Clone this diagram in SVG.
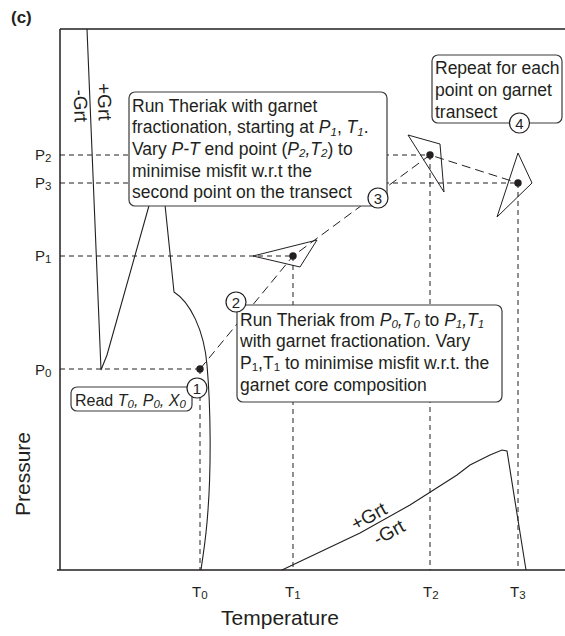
<svg xmlns="http://www.w3.org/2000/svg" width="565" height="636" viewBox="0 0 565 636">
<style>
text { font-family: "Liberation Sans", Arial, sans-serif; fill: #231f20; }
.bt { font-size: 17.5px; }
.s { font-size: 11.5px; }
.ax { font-size: 15px; }
.box { fill: #fff; stroke: #3a3a3a; stroke-width: 1.2; }
.circ { fill: #fff; stroke: #231f20; stroke-width: 1.2; }
.num { font-size: 15px; text-anchor: middle; }
.guide { stroke: #231f20; stroke-width: 1; stroke-dasharray: 5 4; fill: none; }
.trk { stroke: #231f20; stroke-width: 1; stroke-dasharray: 9 5; fill: none; }
.ln { stroke: #231f20; stroke-width: 1.1; fill: none; }
.axis { stroke: #231f20; stroke-width: 1.5; fill: none; }
.err { stroke: #231f20; stroke-width: 1; fill: none; stroke-linejoin: miter; }
.dot { fill: #231f20; }
.it { font-style: italic; }
</style>

<text x="11" y="23" font-size="17" font-weight="bold">(c)</text>

<g id="axes">
<line class="axis" x1="60" y1="29" x2="565" y2="29"/>
<line class="axis" x1="60" y1="29" x2="60" y2="570"/>
<line class="axis" x1="57" y1="570" x2="565" y2="570"/>
<text x="30" y="474" font-size="21" text-anchor="middle" transform="rotate(-90 30 474)">Pressure</text>
<text x="280" y="625" font-size="21" text-anchor="middle">Temperature</text>
<text class="ax" x="35" y="160">P<tspan class="s" dy="2">2</tspan></text>
<text class="ax" x="35" y="188">P<tspan class="s" dy="2">3</tspan></text>
<text class="ax" x="35" y="261">P<tspan class="s" dy="2">1</tspan></text>
<text class="ax" x="35" y="375">P<tspan class="s" dy="2">0</tspan></text>
<text class="ax" x="192" y="597">T<tspan class="s" dy="2">0</tspan></text>
<text class="ax" x="285" y="597">T<tspan class="s" dy="2">1</tspan></text>
<text class="ax" x="423" y="597">T<tspan class="s" dy="2">2</tspan></text>
<text class="ax" x="510" y="597">T<tspan class="s" dy="2">3</tspan></text>
</g>

<g id="phase-boundaries">
<path class="ln" d="M87,29 L101,370 L107,355 L152,195"/>
<path class="ln" d="M164,195 L174,292 C190,302 204,330 207,365 C211,410 211,470 208,510 C206,540 203,555 201,570"/>
<path class="ln" d="M282,570 L360,533 L410,505 L457,475 L470,465 L490,455 L502,450 L507,451 L518,520 L526,570"/>
<text font-size="19" text-anchor="middle" transform="translate(98 102) rotate(88)">+Grt</text>
<text font-size="19" text-anchor="middle" transform="translate(74 106) rotate(88)">-Grt</text>
<text font-size="19" text-anchor="middle" transform="translate(372 522) rotate(-29)">+Grt</text>
<text font-size="19" text-anchor="middle" transform="translate(392 538) rotate(-29)">-Grt</text>
</g>

<g id="connectors">
<path class="guide" d="M60,155 H430 M60,183 H518 M60,256 H293 M60,369 H200"/>
<path class="guide" d="M200,369 V570 M293,256 V570 M430,155 V570 M518,183 V570"/>
<path class="trk" d="M200,369 L293,256 L430,155 L518,183"/>
</g>

<g id="error-triangles">
<polygon class="err" points="253,256 317,240 300,267"/>
<polygon class="err" points="408,135 440,144 444,192"/>
<polygon class="err" points="518,153 532,183 497,217"/>
<circle class="dot" cx="200" cy="369" r="3.7"/>
<circle class="dot" cx="293" cy="256" r="3.7"/>
<circle class="dot" cx="430" cy="155" r="3.7"/>
<circle class="dot" cx="518" cy="183" r="3.7"/>
</g>

<g id="step1">
<rect class="box" x="71" y="387" width="121" height="24" rx="6"/>
<text x="75" y="405.5" font-size="16">Read <tspan class="it">T<tspan class="s" dy="2.5">0</tspan><tspan dy="-2.5">, P</tspan><tspan class="s" dy="2.5">0</tspan><tspan dy="-2.5">, X</tspan><tspan class="s" dy="2.5">0</tspan></tspan></text>
<circle class="circ" cx="197" cy="388" r="10"/>
<text class="num" x="197" y="393.5">1</text>
</g>

<g id="step2">
<rect class="box" x="237" y="305" width="265" height="97" rx="6"/>
<text class="bt" x="240" y="325.5">Run Theriak from <tspan class="it">P<tspan class="s" dy="2.5">0</tspan><tspan dy="-2.5">,T</tspan><tspan class="s" dy="2.5">0</tspan></tspan><tspan dy="-2.5"> to </tspan><tspan class="it">P<tspan class="s" dy="2.5">1</tspan><tspan dy="-2.5">,T</tspan><tspan class="s" dy="2.5">1</tspan></tspan></text>
<text class="bt" x="240" y="347.2">with garnet fractionation. Vary</text>
<text class="bt" x="240" y="368.9">P<tspan class="s" dy="2.5">1</tspan><tspan dy="-2.5">,T</tspan><tspan class="s" dy="2.5">1</tspan><tspan dy="-2.5"> to minimise misfit w.r.t. the</tspan></text>
<text class="bt" x="240" y="390.6">garnet core composition</text>
<circle class="circ" cx="236" cy="302" r="10"/>
<text class="num" x="236" y="307.5">2</text>
</g>

<g id="step3">
<rect class="box" x="129" y="92" width="258" height="114" rx="6"/>
<text class="bt" x="132" y="111.5">Run Theriak with garnet</text>
<text class="bt" x="132" y="133.2">fractionation, starting at <tspan class="it">P<tspan class="s" dy="2.5">1</tspan></tspan><tspan dy="-2.5">, </tspan><tspan class="it">T<tspan class="s" dy="2.5">1</tspan></tspan><tspan dy="-2.5">.</tspan></text>
<text class="bt" x="132" y="154.9">Vary <tspan class="it">P-T</tspan> end point (<tspan class="it">P<tspan class="s" dy="2.5">2</tspan><tspan dy="-2.5">,T</tspan><tspan class="s" dy="2.5">2</tspan></tspan><tspan dy="-2.5">) to</tspan></text>
<text class="bt" x="132" y="176.6">minimise misfit w.r.t the</text>
<text class="bt" x="132" y="198.3">second point on the transect</text>
<circle class="circ" cx="378" cy="198" r="10"/>
<text class="num" x="378" y="203.5">3</text>
</g>

<g id="step4">
<rect class="box" x="432" y="55" width="130" height="68" rx="6"/>
<text class="bt" x="435" y="74">Repeat for each</text>
<text class="bt" x="435" y="96">point on garnet</text>
<text class="bt" x="435" y="118">transect</text>
<circle class="circ" cx="519.5" cy="123" r="10"/>
<text class="num" x="519.5" y="128.5">4</text>
</g>
</svg>
